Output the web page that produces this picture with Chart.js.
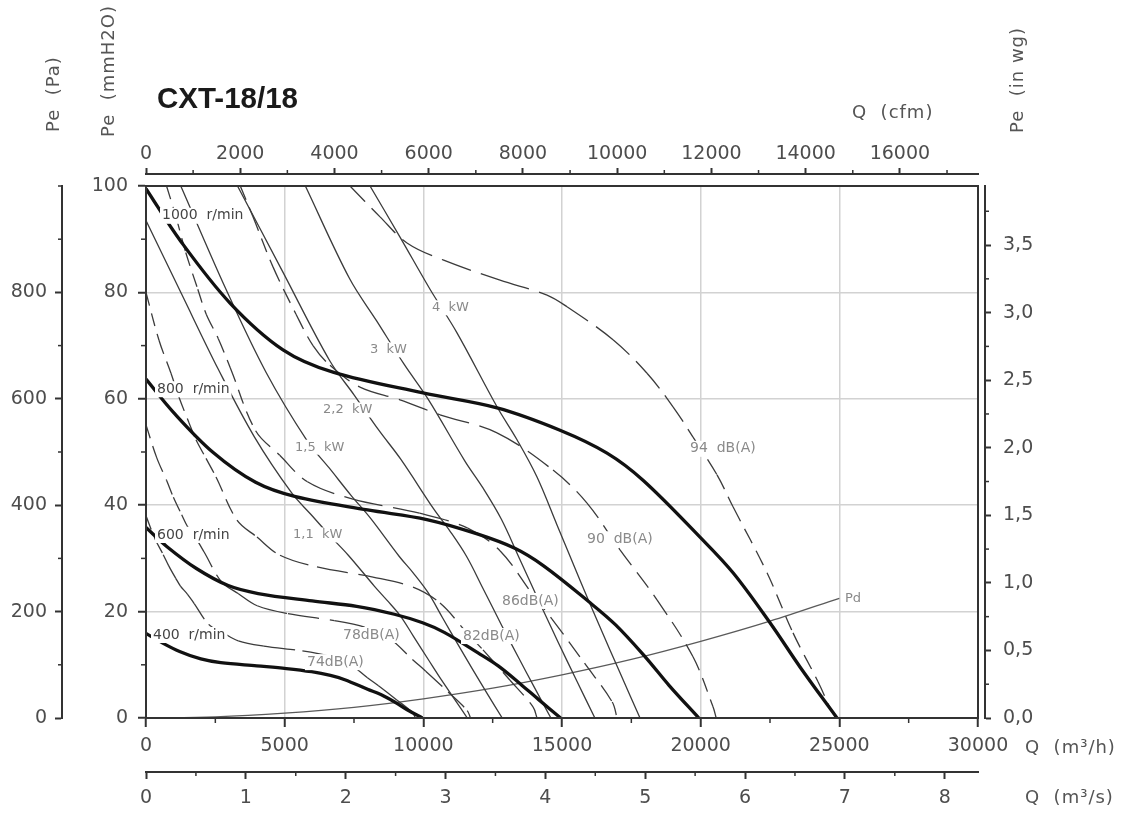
<!DOCTYPE html>
<html>
<head>
<meta charset="utf-8">
<script src="https://cdn.jsdelivr.net/npm/chart.js@4.4.1/dist/chart.umd.min.js"></script>
<style>
  html, body { margin: 0; padding: 0; background: #fff; }
  #wrap { width: 1127px; height: 814px; }
</style>
</head>
<body>
<div id="wrap"><canvas id="chart" width="1127" height="814"></canvas></div>
<script>
// ---------------------------------------------------------------
// CXT-18/18 fan curves — Q in m3/h, Pe in mmH2O
// ---------------------------------------------------------------

// fan speed curves
const rpm1000 = [[0, 99.5], [1226, 89.8], [3029, 78.0], [4940, 69.2], [6743, 65.0], [9988, 61.1], [12656, 58.3], [14928, 54.1], [16623, 49.8], [17921, 44.7], [19976, 34.0], [21167, 27.3], [22500, 17.9], [23582, 9.6], [24916, 0]];
const rpm800 = [[0, 63.7], [981, 57.5], [2423, 49.9], [3952, 44.3], [5394, 41.6], [7990, 39.1], [10125, 37.3], [11942, 34.6], [13298, 31.9], [14337, 28.6], [15981, 21.8], [16934, 17.5], [18000, 11.5], [18866, 6.1], [19933, 0]];
const rpm600 = [[0, 35.8], [736, 32.3], [1817, 28.1], [2964, 24.9], [4046, 23.4], [5993, 22.0], [7594, 21.0], [8957, 19.5], [9974, 17.9], [10753, 16.1], [11986, 12.2], [12700, 9.8], [13500, 6.4], [14149, 3.5], [14950, 0]];
const rpm400 = [[0, 15.9], [490, 14.4], [1212, 12.5], [1976, 11.1], [2697, 10.4], [3995, 9.8], [5062, 9.3], [5971, 8.7], [6649, 8.0], [7168, 7.2], [7990, 5.4], [8467, 4.4], [9000, 2.9], [9433, 1.5], [9966, 0]];

// absorbed power lines
const kw4 = [[8077, 100], [9159, 90.4], [10241, 80.6], [11214, 72.4], [12656, 58.5], [13378, 52.3], [14099, 45.3], [14820, 36.3], [15649, 25.9], [16370, 17.1], [17092, 8.5], [17813, 0]];
const kw3 = [[5746, 100], [7339, 82.6], [8322, 74.6], [9305, 66.5], [10189, 59.8], [11499, 48.3], [12155, 43.2], [12810, 37.4], [13465, 30.0], [14219, 21.4], [14874, 14.1], [15530, 7.0], [16185, 0]];
const kw22 = [[3300, 100], [4918, 84.0], [6620, 67.2], [7507, 60.7], [8394, 54.1], [9191, 48.6], [10373, 39.3], [10965, 35.1], [11556, 30.4], [12147, 24.4], [12826, 17.4], [13417, 11.5], [14009, 5.7], [14600, 0]];
const kw15 = [[1254, 100], [2884, 80.6], [4327, 65.0], [5824, 52.0], [6605, 47.0], [7385, 41.9], [8086, 37.6], [9126, 30.4], [9647, 27.2], [10167, 23.6], [10687, 18.9], [11284, 13.5], [11804, 8.9], [12325, 4.4], [12845, 0]];
const kw11 = [[0, 93.5], [1301, 79.5], [2602, 65.6], [3902, 52.9], [5253, 42.3], [5957, 38.2], [6661, 34.1], [7294, 30.6], [8232, 24.8], [8695, 22.1], [9170, 19.2], [9639, 15.4], [10178, 11.0], [10647, 7.2], [11117, 3.6], [11586, 0]];

// sound level lines
const db94 = [[7356, 100], [8438, 94.2], [9411, 89.3], [10709, 86.1], [12765, 82.3], [14460, 79.5], [15181, 77.3], [16840, 71.1], [18066, 64.8], [19003, 58.5], [19724, 52.8], [20590, 45.7], [21167, 39.7], [22393, 27.3], [23330, 16.0], [24232, 6.8], [24650, 2.0]];
const db90 = [[3400, 100], [3858, 94.2], [4579, 84.8], [5409, 75.9], [6022, 70.0], [6635, 66.3], [7716, 62.2], [9159, 59.8], [10601, 57.0], [12656, 53.6], [14676, 46.6], [15902, 40.4], [17092, 31.6], [18426, 22.2], [19724, 11.5], [20445, 2.1], [20560, 0]];
const db86 = [[741, 100], [1086, 94.1], [1434, 87.5], [1867, 80.6], [2172, 75.9], [2607, 71.3], [3041, 65.8], [3953, 54.0], [4822, 49.4], [5822, 44.4], [7429, 41.2], [9861, 38.5], [11600, 35.7], [12772, 31.4], [13946, 23.2], [14640, 18.6], [15813, 10.3], [16812, 3.0], [16986, 0]];
const db82 = [[0, 80], [469, 71], [901, 64.8], [1190, 60.3], [1550, 55.5], [1803, 52.3], [2164, 48.8], [2524, 45.3], [3281, 37.2], [4002, 34.0], [4832, 30.6], [6166, 28.4], [8185, 26.5], [9628, 24.6], [10601, 21.6], [11575, 16.0], [12151, 12.8], [13125, 7.1], [13954, 2.1], [14099, 0]];
const db78 = [[0, 55.1], [389, 48.9], [748, 44.6], [988, 41.5], [1287, 38.2], [1496, 36.0], [1796, 33.8], [2095, 31.2], [2723, 25.6], [3322, 23.4], [4011, 21.1], [5118, 19.6], [6794, 18.3], [7991, 16.9], [8799, 14.9], [9607, 11.0], [10085, 8.8], [10894, 4.9], [11582, 1.4], [11702, 0]];
const db74 = [[0, 38.0], [323, 33.7], [621, 30.7], [820, 28.6], [1068, 26.3], [1242, 24.8], [1491, 23.3], [1739, 21.5], [2260, 17.6], [2757, 16.1], [3329, 14.5], [4248, 13.5], [5639, 12.6], [6633, 11.6], [7303, 10.3], [7974, 7.6], [8371, 6.1], [9042, 3.4], [9613, 1.0], [9713, 0]];

// dynamic pressure
const pdCurve = [[0, 0], [2500, 0.2], [5000, 0.9], [7500, 2.0], [10000, 3.6], [12500, 5.6], [15000, 8.1], [17500, 11.0], [20000, 14.4], [22500, 18.2], [25000, 22.5]];

// in-plot labels and the (Q, Pe) point each one starts at
const rpmLabels = ['1000  r/min', '800  r/min', '600  r/min', '400  r/min'];
const rpmLabelAt = [[577, 94.4], [397, 61.8], [397, 34.4], [252, 15.6]];
const kwLabels = ['4  kW', '3  kW', '2,2  kW', '1,5  kW', '1,1  kW'];
const kwLabelAt = [[10313, 77.1], [8077, 69.2], [6382, 57.9], [5373, 50.9], [5300, 34.4]];
const dbLabels = ['94  dB(A)', '90  dB(A)', '86dB(A)', '82dB(A)', '78dB(A)', '74dB(A)'];
const dbLabelAt = [[19615, 50.6], [15902, 33.6], [12837, 22.0], [11430, 15.4], [7103, 15.6], [5805, 10.5]];
const pdLabel = 'Pd';
const pdLabelAt = [25205, 22.4];

// axis ticks
const flowTicks = [0, 5000, 10000, 15000, 20000, 25000, 30000];   // m3/h
const m3sTicks = [0, 1, 2, 3, 4, 5, 6, 7, 8];                      // m3/s
const cfmTicks = [0, 2000, 4000, 6000, 8000, 10000, 12000, 14000, 16000];
const mmTicks = [0, 20, 40, 60, 80, 100];                          // mmH2O
const paTicks = [0, 200, 400, 600, 800];                           // Pa
const wgTicks = [0, 0.5, 1, 1.5, 2, 2.5, 3, 3.5];                  // in wg

const Q_MAX = 30000, PE_MAX = 100;

// ---------------------------------------------------------------
const FONT = 'DejaVu Sans';
const tickFont = { family: FONT, size: 19 };
const tickColor = '#4d4d4d';
const ink = '#333';

const toPts = arr => arr.map(([q, p]) => ({ x: q, y: p }));

// CAD style dashes: long on flat stretches, shorter on steep ones
function dashFor(ctx) {
  const dx = ctx.p1.x - ctx.p0.x, dy = ctx.p1.y - ctx.p0.y;
  const len = Math.hypot(dx, dy) || 1;
  const c2 = (dx / len) * (dx / len);
  return [12 + 20 * c2, 8 + 3 * c2];
}

function line(arr, style) {
  return Object.assign({
    data: toPts(arr), pointRadius: 0, pointHoverRadius: 0, fill: false,
    tension: 0.35
  }, style);
}
const thick = { borderColor: '#111', borderWidth: 3.3 };
const thin = { borderColor: '#3b3b3b', borderWidth: 1.3 };
const dashed = { borderColor: '#3b3b3b', borderWidth: 1.3, segment: { borderDash: dashFor } };
const pdStyle = { borderColor: '#5a5a5a', borderWidth: 1.3 };

const datasets = [
  line(rpm1000, thick), line(rpm800, thick), line(rpm600, thick), line(rpm400, thick),
  line(kw4, thin), line(kw3, thin), line(kw22, thin), line(kw15, thin), line(kw11, thin),
  line(db94, dashed), line(db90, dashed), line(db86, dashed), line(db82, dashed), line(db78, dashed), line(db74, dashed),
  line(pdCurve, pdStyle)
];

const useTicks = list => scale => { scale.ticks = list.map(v => ({ value: v })); };
const plain = v => String(v);

function axis(extra) {
  return Object.assign({
    type: 'linear',
    grid: { drawOnChartArea: false, tickLength: 7, tickColor: ink, tickWidth: 2 },
    border: { color: ink, width: 2 },
    ticks: { font: tickFont, color: tickColor, autoSkip: false, maxRotation: 0, minRotation: 0, callback: plain }
  }, extra);
}

// minor tick marks, drawn by hand through each scale
const minorTicks = {
  x: { step: 2500, len: 5 }, x2: { step: 0.5, len: 4 }, cfm: { step: 1000, len: 4 },
  y: { step: 10, len: 5 }, pa: { step: 100, len: 4 }, wg: { step: 0.25, len: 4 }
};

const decor = {
  id: 'decor',
  afterDatasetsDraw(chart) {
    const { ctx, chartArea: a, scales } = chart;
    const xs = scales.x, ys = scales.y;
    ctx.save();
    const tag = (text, at, size, color) => {
      const px = xs.getPixelForValue(at[0]), py = ys.getPixelForValue(at[1]);
      ctx.font = size + 'px ' + FONT;
      const w = ctx.measureText(text).width;
      ctx.fillStyle = '#fff';
      ctx.fillRect(px - 2, py - size / 2 - 1, w + 4, size + 2);
      ctx.fillStyle = color;
      ctx.textAlign = 'left';
      ctx.textBaseline = 'middle';
      ctx.fillText(text, px, py);
    };
    rpmLabels.forEach((t, i) => tag(t, rpmLabelAt[i], 14, '#444'));
    kwLabels.forEach((t, i) => tag(t, kwLabelAt[i], 13, '#8a8a8a'));
    dbLabels.forEach((t, i) => tag(t, dbLabelAt[i], 14, '#8a8a8a'));
    tag(pdLabel, pdLabelAt, 13, '#8a8a8a');

    ctx.strokeStyle = ink;
    ctx.lineWidth = 2;
    ctx.strokeRect(a.left, a.top, a.right - a.left, a.bottom - a.top);
    ctx.restore();
  },
  afterDraw(chart) {
    const { ctx, scales } = chart;
    ctx.save();
    ctx.strokeStyle = ink;
    ctx.lineWidth = 1.5;
    Object.keys(minorTicks).forEach(id => {
      const s = scales[id], m = minorTicks[id];
      const n = Math.floor((s.max - s.min) / m.step + 1e-9);
      for (let i = 0; i <= n; i++) {
        const v = s.min + i * m.step;
        if (s.ticks.some(t => Math.abs(t.value - v) < m.step * 1e-3)) continue;
        const p = s.getPixelForValue(v);
        ctx.beginPath();
        if (s.position === 'bottom') { ctx.moveTo(p, s.top); ctx.lineTo(p, s.top + m.len); }
        else if (s.position === 'top') { ctx.moveTo(p, s.bottom); ctx.lineTo(p, s.bottom - m.len); }
        else if (s.position === 'left') { ctx.moveTo(s.right, p); ctx.lineTo(s.right - m.len, p); }
        else { ctx.moveTo(s.left, p); ctx.lineTo(s.left + m.len, p); }
        ctx.stroke();
      }
    });

    // titles
    const text = (t, x, y, font, color, rotate) => {
      ctx.save();
      ctx.font = font;
      ctx.fillStyle = color;
      ctx.textAlign = 'left';
      ctx.textBaseline = 'middle';
      if ('letterSpacing' in ctx) ctx.letterSpacing = rotate !== undefined ? '1px' : '0px';
      ctx.translate(x, y);
      if (rotate) ctx.rotate(rotate);
      ctx.fillText(t, 0, 0);
      ctx.restore();
    };
    const axisFont = '18px ' + FONT;
    text('CXT-18/18', 157, 100, 'bold 29.5px "Liberation Sans"', '#1a1a1a');
    text('Pe  (Pa)', 54, 132, axisFont, '#555', -Math.PI / 2);
    text('Pe  (mmH2O)', 109, 137, axisFont, '#555', -Math.PI / 2);
    text('Pe  (in wg)', 1018, 133, axisFont, '#555', -Math.PI / 2);
    text('Q  (cfm)', 852, 113, axisFont, '#555', 0);
    text('Q  (m³/h)', 1025, 748, axisFont, '#555', 0);
    text('Q  (m³/s)', 1025, 798, axisFont, '#555', 0);
    ctx.restore();
  }
};

new Chart(document.getElementById('chart'), {
  type: 'line',
  data: { datasets },
  options: {
    responsive: false,
    devicePixelRatio: 1,
    animation: false,
    events: [],
    layout: { padding: 0 },
    plugins: { legend: { display: false }, tooltip: { enabled: false }, title: { display: false } },
    scales: {
      x: axis({
        position: 'bottom', weight: 0, min: 0, max: Q_MAX,
        grid: { drawOnChartArea: true, color: '#d2d2d2', lineWidth: 1.5, tickLength: 9, tickColor: ink, tickWidth: 2 },
        ticks: { font: tickFont, color: tickColor, padding: 8, autoSkip: false, maxRotation: 0, minRotation: 0, callback: plain },
        afterBuildTicks: useTicks(flowTicks),
        afterFit: s => { s.height = 54; }
      }),
      x2: axis({
        position: 'bottom', axis: 'x', weight: 1, min: 0, max: Q_MAX / 3600,
        ticks: { font: tickFont, color: tickColor, padding: 8, autoSkip: false, maxRotation: 0, minRotation: 0, callback: plain },
        afterBuildTicks: useTicks(m3sTicks),
        afterFit: s => { s.height = 42; }
      }),
      gapTop: {
        type: 'linear', position: 'top', axis: 'x', weight: 0, min: 0, max: 1,
        grid: { display: false }, ticks: { display: false }, border: { display: false },
        afterFit: s => { s.height = 12; }
      },
      cfm: axis({
        position: 'top', axis: 'x', weight: 1, min: 0, max: Q_MAX / 1.699,
        grid: { drawOnChartArea: false, tickLength: 6, tickColor: ink, tickWidth: 2 },
        ticks: { font: tickFont, color: tickColor, padding: 3, autoSkip: false, maxRotation: 0, minRotation: 0, callback: plain },
        afterBuildTicks: useTicks(cfmTicks),
        afterFit: s => { s.height = 174; }
      }),
      y: axis({
        position: 'left', weight: 0, min: 0, max: PE_MAX,
        grid: { drawOnChartArea: true, color: '#d2d2d2', lineWidth: 1.5, tickLength: 8, tickColor: ink, tickWidth: 2 },
        ticks: { font: tickFont, color: tickColor, padding: 10, autoSkip: false, callback: plain },
        afterBuildTicks: useTicks(mmTicks),
        afterFit: s => { s.width = 84; }
      }),
      pa: axis({
        position: 'left', axis: 'y', weight: 1, min: 0, max: PE_MAX * 10,
        ticks: { font: tickFont, color: tickColor, padding: 8, autoSkip: false, callback: plain },
        afterBuildTicks: useTicks(paTicks),
        afterFit: s => { s.width = 62; }
      }),
      gapRight: {
        type: 'linear', position: 'right', axis: 'y', weight: 0, min: 0, max: 1,
        grid: { display: false }, ticks: { display: false }, border: { display: false },
        afterFit: s => { s.width = 7; }
      },
      wg: axis({
        position: 'right', axis: 'y', weight: 1, min: 0, max: PE_MAX / 25.4,
        grid: { drawOnChartArea: false, tickLength: 6, tickColor: ink, tickWidth: 2 },
        ticks: { font: tickFont, color: tickColor, padding: 12, autoSkip: false, callback: v => v.toFixed(1).replace('.', ',') },
        afterBuildTicks: useTicks(wgTicks),
        afterFit: s => { s.width = 142; }
      })
    }
  },
  plugins: [decor]
});
</script>
</body>
</html>
